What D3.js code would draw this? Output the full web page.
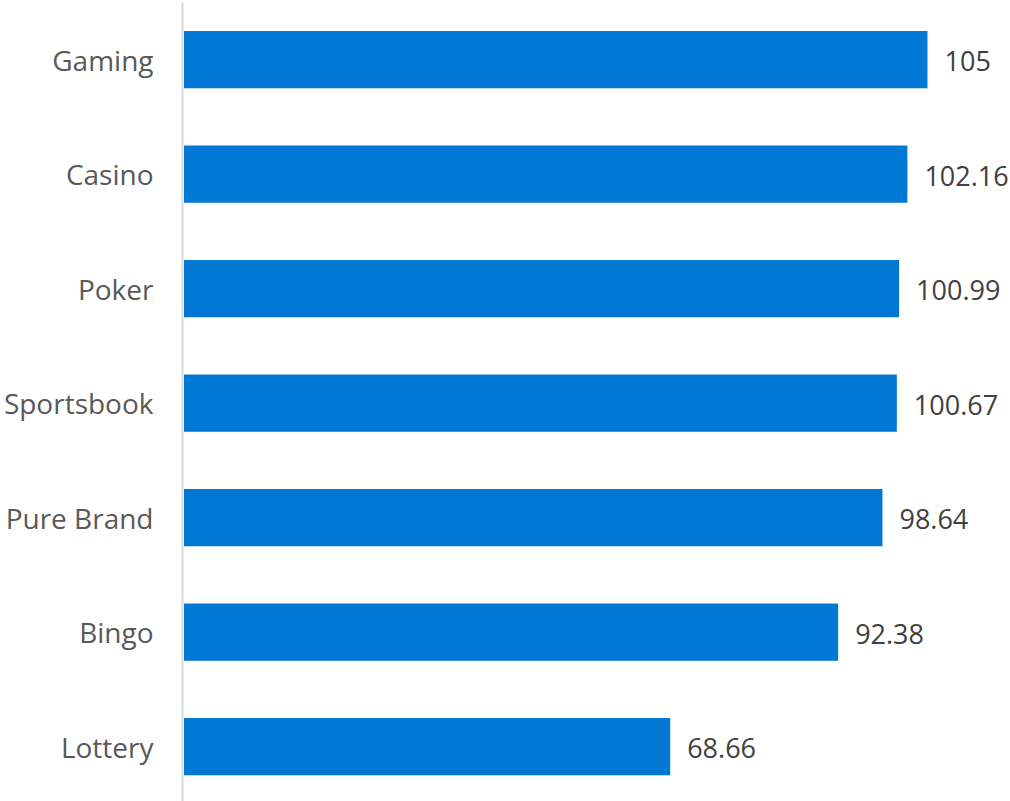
<!DOCTYPE html>
<html>
<head>
<meta charset="utf-8">
<script src="https://cdn.jsdelivr.net/npm/d3@7"></script>
<style>
  body { margin: 0; background: #fff; }
  text { font-family: "Open Sans", "Noto Sans", sans-serif; }
</style>
</head>
<body>
<script>
let w = 1010;
let h = 801;

let categories = ["Gaming", "Casino", "Poker", "Sportsbook", "Pure Brand", "Bingo", "Lottery"];
let values = [105, 102.16, 100.99, 100.67, 98.64, 92.38, 68.66];
let valueLabels = ["105", "102.16", "100.99", "100.67", "98.64", "92.38", "68.66"];

let dataset = categories.map((c, i) => ({ cat: c, val: values[i], label: valueLabels[i] }));

let xScale = d3.scaleLinear()
  .domain([0, 105])
  .range([184, 927.5]);

let yScale = d3.scaleBand()
  .domain(categories)
  .range([2.4, 803.9])
  .paddingInner(0.5)
  .paddingOuter(0.25);

let svg = d3.select("body")
  .append("svg")
  .attr("width", w)
  .attr("height", h);

// bars
svg.append("g")
  .selectAll("rect")
  .data(dataset)
  .enter()
  .append("rect")
  .attr("x", xScale(0))
  .attr("y", (d) => yScale(d.cat))
  .attr("width", (d) => xScale(d.val) - xScale(0))
  .attr("height", yScale.bandwidth())
  .attr("fill", "#0078d4");

// value labels
svg.append("g")
  .selectAll("text")
  .data(dataset)
  .enter()
  .append("text")
  .attr("x", (d) => xScale(d.val) + 17)
  .attr("y", (d) => yScale(d.cat) + yScale.bandwidth() / 2 + 2)
  .attr("dy", "0.35em")
  .attr("font-size", 27)
  .attr("fill", "#404040")
  .text((d) => d.label);

// category axis
let yAxis = d3.axisLeft(yScale)
  .tickSize(0)
  .tickPadding(29);

let axisG = svg.append("g")
  .attr("class", "y axis")
  .attr("transform", "translate(" + 182.5 + ",2)")
  .call(yAxis);

axisG.select(".domain").remove();
axisG.selectAll("text")
  .attr("font-size", 28)
  .attr("font-family", "'Open Sans', 'Noto Sans', sans-serif")
  .attr("fill", "#595959");

svg.append("line")
  .attr("x1", 182.5)
  .attr("x2", 182.5)
  .attr("y1", 2.5)
  .attr("y2", h)
  .attr("stroke", "#d9d9d9")
  .attr("stroke-width", 2);
</script>
</body>
</html>
